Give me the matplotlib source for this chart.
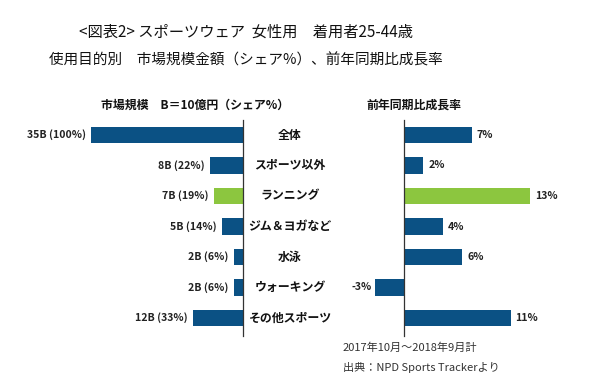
import matplotlib
matplotlib.use("Agg")
import matplotlib.pyplot as plt

plt.rcParams['font.family'] = ['Noto Sans CJK JP', 'DejaVu Sans']

categories = ["全体", "スポーツ以外", "ランニング", "ジム＆ヨガなど", "水泳", "ウォーキング", "その他スポーツ"]
share_pct = [100, 22, 19, 14, 6, 6, 33]
size_labels = ["35B (100%)", "8B (22%)", "7B (19%)", "5B (14%)", "2B (6%)", "2B (6%)", "12B (33%)"]
growth_pct = [7, 2, 13, 4, 6, -3, 11]

BLUE = "#0b5184"
GREEN = "#8cc63f"
colors = [GREEN if c == "ランニング" else BLUE for c in categories]

W, H = 600, 383
fig = plt.figure(figsize=(W / 100, H / 100), dpi=100)

def fx(px):
    return px / W

def fy(py):
    return 1 - py / H

y_top, y_bot = 120, 336
row0, row_step = 135, 30.5
ylim = (6 + (y_bot - (row0 + 6 * row_step)) / row_step, -(row0 - y_top) / row_step)

# Left axes: zero at x=243 px, 1.52 px per %
zero_l, ppu_l = 243, 1.52
l_left = 50
axL = fig.add_axes([fx(l_left), fy(y_bot), fx(zero_l - l_left), (y_bot - y_top) / H])
axL.set_xlim(-(zero_l - l_left) / ppu_l, 0)
ypos = list(range(len(categories)))
axL.barh(ypos, [-v for v in share_pct], height=0.53, color=colors)
axL.set_ylim(*ylim)
for s in ["top", "left", "bottom"]:
    axL.spines[s].set_visible(False)
axL.spines["right"].set_color("#333333")
axL.spines["right"].set_linewidth(0.9)
axL.set_xticks([])
axL.set_yticks([])
for y, v, lab in zip(ypos, share_pct, size_labels):
    axL.text(-v - 3.5, y, lab, ha="right", va="center", fontsize=7.6,
             fontweight="bold", color="#222222")

# Right axes: zero at x=404 px, 9.7 px per %
zero_r, ppu_r = 404, 9.7
r_left, r_right = 340, 585
axR = fig.add_axes([fx(r_left), fy(y_bot), fx(r_right - r_left), (y_bot - y_top) / H])
axR.set_xlim(-(zero_r - r_left) / ppu_r, (r_right - zero_r) / ppu_r)
axR.barh(ypos, growth_pct, height=0.53, color=colors)
axR.set_ylim(*ylim)
for s in ["top", "right", "bottom"]:
    axR.spines[s].set_visible(False)
axR.spines["left"].set_position(("data", 0))
axR.spines["left"].set_color("#333333")
axR.spines["left"].set_linewidth(0.9)
axR.set_xticks([])
axR.set_yticks([])
for y, v in zip(ypos, growth_pct):
    if v >= 0:
        axR.text(v + 0.5, y, f"{v}%", ha="left", va="center", fontsize=7.6,
                 fontweight="bold", color="#222222")
    else:
        axR.text(v - 0.35, y, f"{v}%", ha="right", va="center", fontsize=7.6,
                 fontweight="bold", color="#222222")

# Category labels in the middle
for i, c in enumerate(categories):
    py = row0 + i * row_step
    fig.text(fx(290), fy(py), c, ha="center", va="center", fontsize=8.6,
             fontweight="bold", color="#111111")

# Titles
fig.text(fx(246), fy(32), "<図表2> スポーツウェア  女性用　着用者25-44歳",
         ha="center", va="center", fontsize=11, color="#111111")
fig.text(fx(246), fy(60), "使用目的別　市場規模金額（シェア%）、前年同期比成長率",
         ha="center", va="center", fontsize=10.5, color="#111111")

# Column headers
fig.text(fx(195), fy(105), "市場規模　B＝10億円（シェア%）", ha="center", va="center",
         fontsize=8.6, fontweight="bold", color="#111111")
fig.text(fx(414), fy(105), "前年同期比成長率", ha="center", va="center",
         fontsize=8.6, fontweight="bold", color="#111111")

# Footnotes
fig.text(fx(343), fy(348), "2017年10月～2018年9月計", ha="left", va="center",
         fontsize=8, color="#333333")
fig.text(fx(343), fy(367), "出典：NPD Sports Trackerより", ha="left", va="center",
         fontsize=8, color="#333333")

fig.savefig("out.png", dpi=100, facecolor="white")
